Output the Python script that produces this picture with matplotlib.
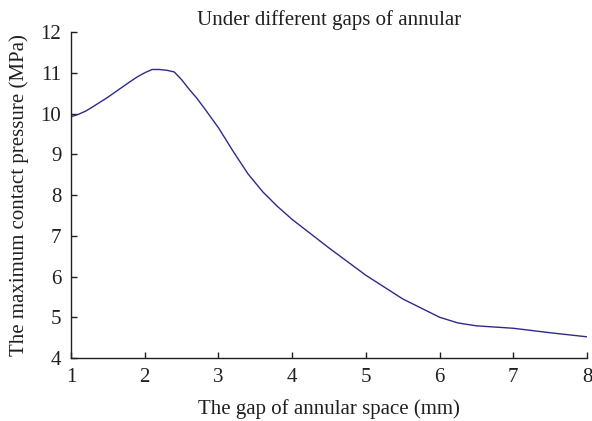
import numpy as np
import matplotlib.pyplot as plt

# gap of annular space (mm) vs max contact pressure (MPa)
gap = [1.0, 1.1, 1.2, 1.3, 1.5, 1.8, 1.9, 2.0, 2.1, 2.2, 2.3, 2.4, 2.5, 2.6,
       2.7, 2.8, 3.0, 3.2, 3.4, 3.6, 3.8, 4.0, 4.5, 5.0, 5.5, 6.0, 6.25,
       6.5, 7.0, 7.5, 8.0]
pressure = [9.92, 9.98, 10.06, 10.17, 10.4, 10.78, 10.9, 11.0, 11.08, 11.08,
            11.06, 11.02, 10.83, 10.6, 10.39, 10.15, 9.65, 9.07, 8.52, 8.08,
            7.72, 7.40, 6.70, 6.03, 5.45, 5.0, 4.86, 4.79, 4.73, 4.62, 4.52]

plt.rcParams['font.family'] = ['Liberation Serif', 'DejaVu Serif']
txt = "#231f20"

fig = plt.figure(figsize=(5.92, 4.21), dpi=100)
ax = fig.add_axes([0.12, 0.1496, 0.8716, 0.7744])
ax.plot(gap, pressure, color="#2e2a8c", lw=1.0)

ax.set_xlim(1, 8); ax.set_ylim(4, 12)
ax.set_xticks(np.arange(1, 9)); ax.set_yticks(np.arange(4, 13))
ax.spines['top'].set_visible(False); ax.spines['right'].set_visible(False)
for s in ['left', 'bottom']:
    ax.spines[s].set_color(txt); ax.spines[s].set_linewidth(1.0)
ax.tick_params(direction='in', length=4, width=1.0, colors=txt,
               labelsize=15, pad=7)
ax.tick_params(axis='y', pad=7)

ax.set_title("Under different gaps of annular", fontsize=15, color=txt, pad=5)
ax.set_xlabel("The gap of annular space (mm)", fontsize=15, color=txt, labelpad=9)
ax.set_ylabel("The maximum contact pressure (MPa)", fontsize=15, color=txt, labelpad=8)

fig.savefig("out.png", dpi=100)
